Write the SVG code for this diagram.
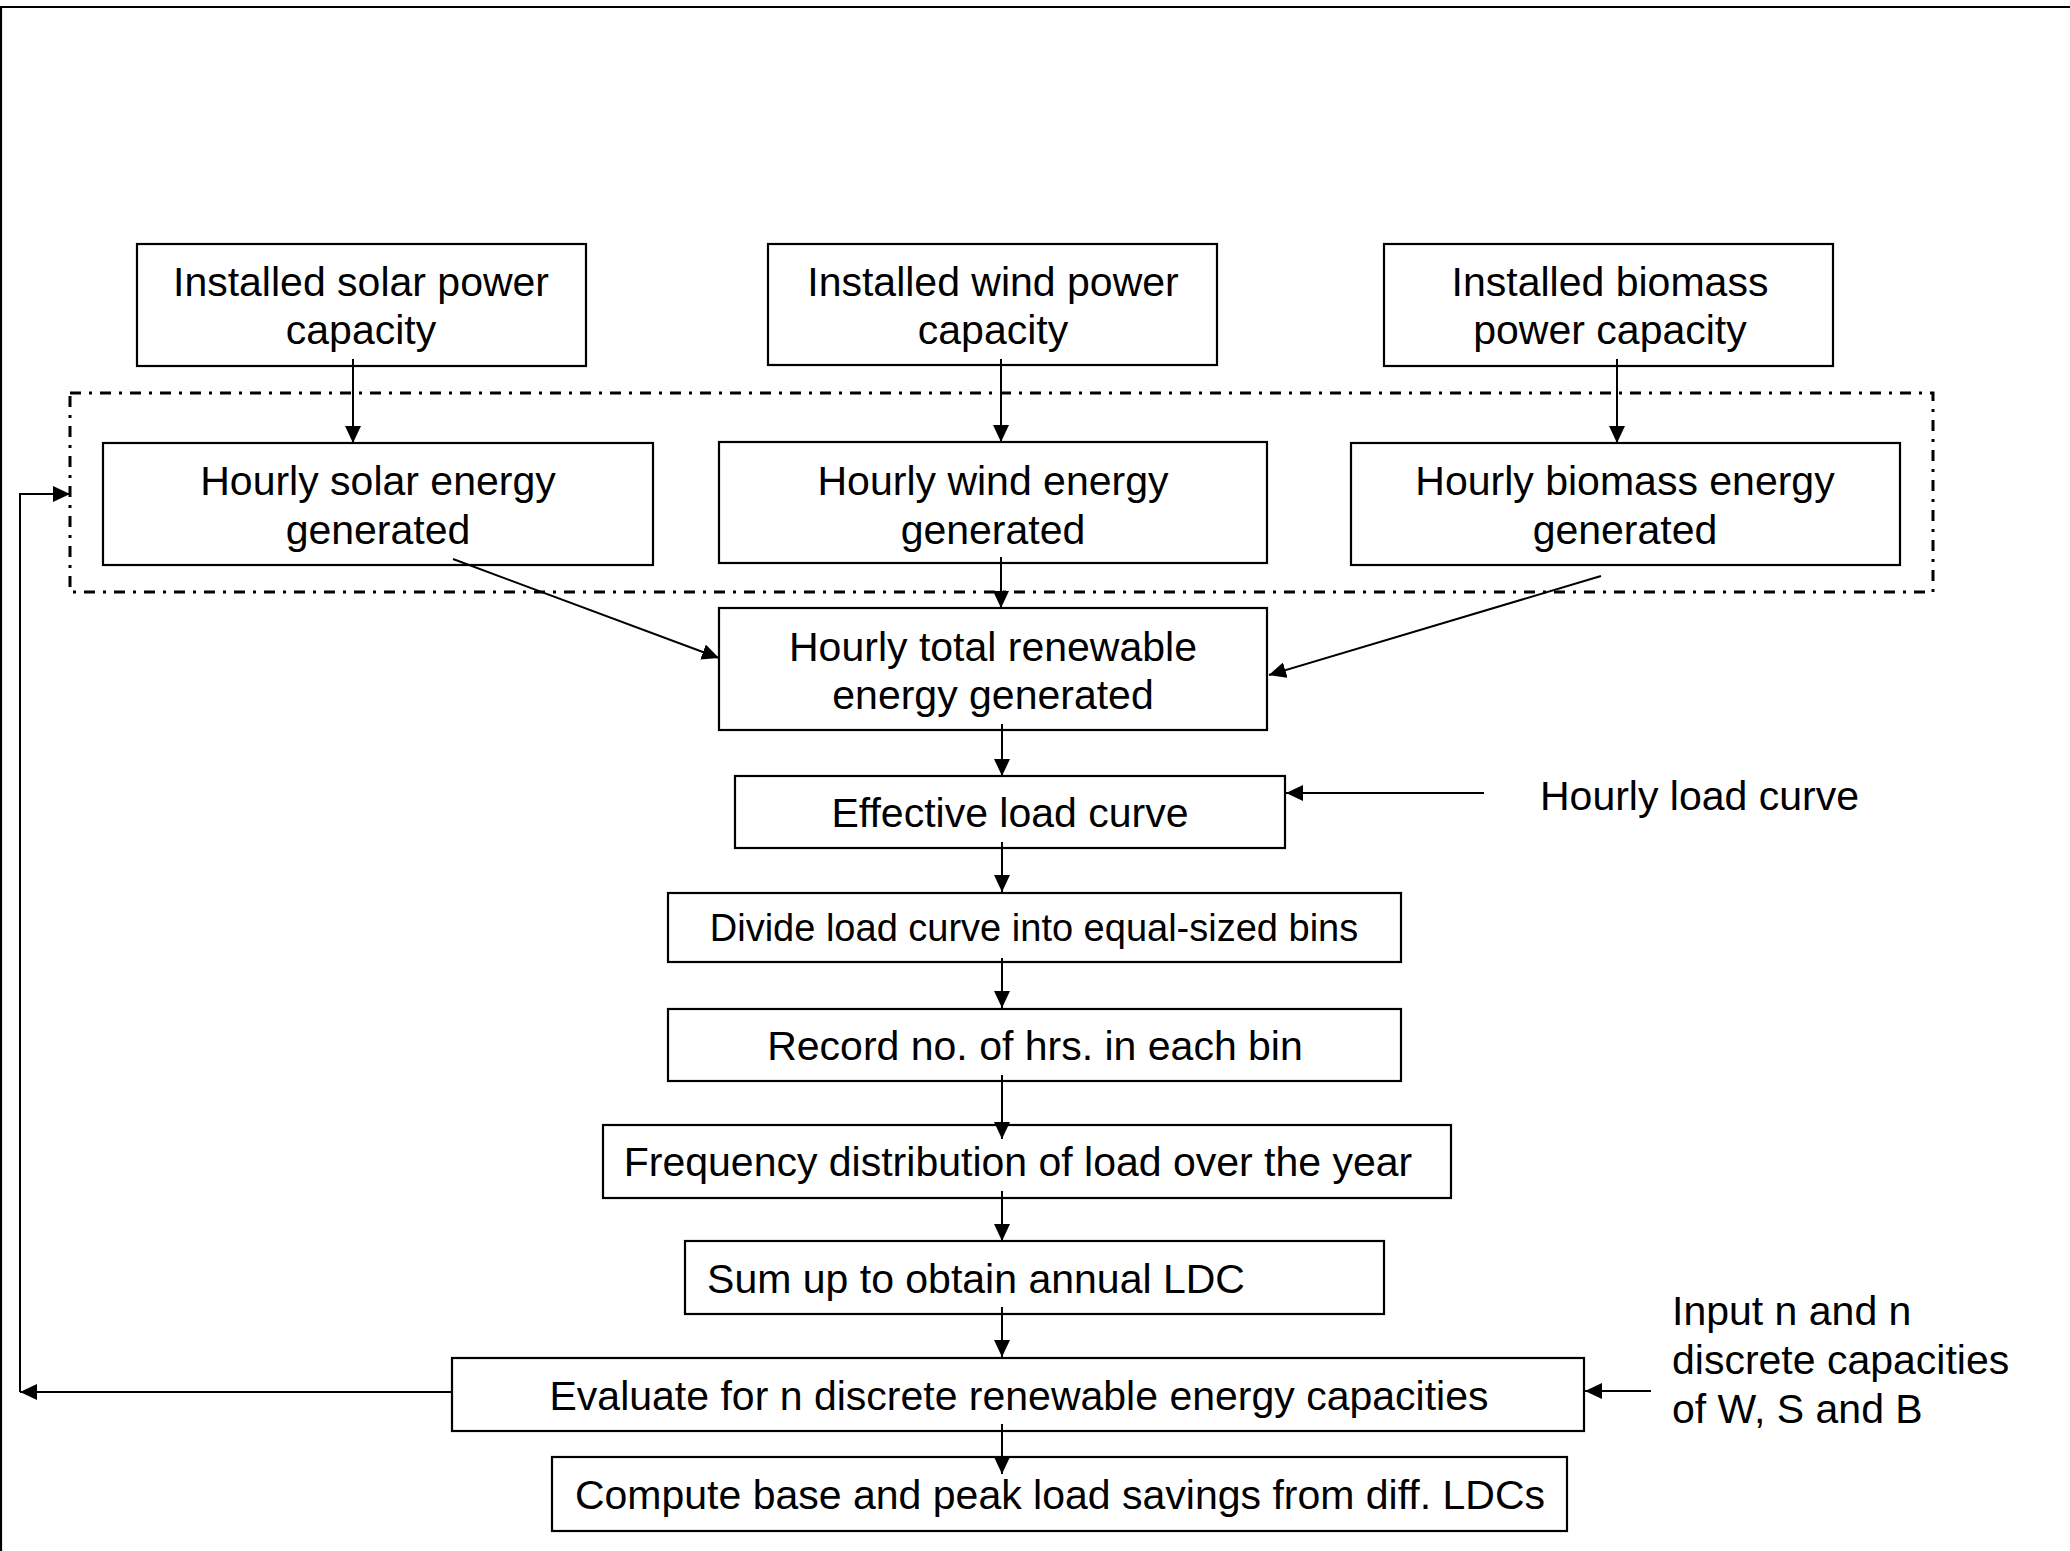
<svg xmlns="http://www.w3.org/2000/svg" width="2070" height="1551" viewBox="0 0 2070 1551">
<style>
  .box { fill: #fff; stroke: #000; stroke-width: 2.2; }
  .t { font-family: "Liberation Sans", Arial, sans-serif; font-size: 41px; fill: #000; }
  .c { text-anchor: middle; }
  .s { font-size: 38px; }
  .ln { fill: none; stroke: #000; stroke-width: 2; }
  .dash { fill: none; stroke: #000; stroke-width: 3; stroke-dasharray: 11 8 3 8; }
  .frame { fill: none; stroke: #000; stroke-width: 2.2; }
</style>
<defs>
  <marker id="ah" markerUnits="userSpaceOnUse" markerWidth="18" markerHeight="16" refX="17" refY="8" orient="auto">
    <path d="M0,0 L17,8 L0,16 z" fill="#000"/>
  </marker>
</defs>
<rect x="0" y="0" width="2070" height="1551" fill="#fff"/>
<g id="frame">
  <path class="frame" d="M0,7 H2070 M1,7 V1551"/>
</g>
<g id="group-hourly">
  <rect class="dash" x="70" y="393" width="1863" height="199"/>
</g>
<g id="n-solar-cap">
  <rect class="box" x="137" y="244" width="449" height="122"/>
  <text class="t c" x="361" y="296">Installed solar power</text>
  <text class="t c" x="361" y="344">capacity</text>
</g>
<g id="n-wind-cap">
  <rect class="box" x="768" y="244" width="449" height="121"/>
  <text class="t c" x="993" y="296">Installed wind power</text>
  <text class="t c" x="993" y="344">capacity</text>
</g>
<g id="n-bio-cap">
  <rect class="box" x="1384" y="244" width="449" height="122"/>
  <text class="t c" x="1610" y="296">Installed biomass</text>
  <text class="t c" x="1610" y="344">power capacity</text>
</g>
<g id="n-solar-hr">
  <rect class="box" x="103" y="443" width="550" height="122"/>
  <text class="t c" x="378" y="495">Hourly solar energy</text>
  <text class="t c" x="378" y="544">generated</text>
</g>
<g id="n-wind-hr">
  <rect class="box" x="719" y="442" width="548" height="121"/>
  <text class="t c" x="993" y="495">Hourly wind energy</text>
  <text class="t c" x="993" y="544">generated</text>
</g>
<g id="n-bio-hr">
  <rect class="box" x="1351" y="443" width="549" height="122"/>
  <text class="t c" x="1625" y="495">Hourly biomass energy</text>
  <text class="t c" x="1625" y="544">generated</text>
</g>
<g id="n-total">
  <rect class="box" x="719" y="608" width="548" height="122"/>
  <text class="t c" x="993" y="661">Hourly total renewable</text>
  <text class="t c" x="993" y="709">energy generated</text>
</g>
<g id="n-effective">
  <rect class="box" x="735" y="776" width="550" height="72"/>
  <text class="t c" x="1010" y="827">Effective load curve</text>
</g>
<g id="n-divide">
  <rect class="box" x="668" y="893" width="733" height="69"/>
  <text class="t s c" x="1034" y="941">Divide load curve into equal-sized bins</text>
</g>
<g id="n-record">
  <rect class="box" x="668" y="1009" width="733" height="72"/>
  <text class="t c" x="1035" y="1060">Record no. of hrs. in each bin</text>
</g>
<g id="n-freq">
  <rect class="box" x="603" y="1125" width="848" height="73"/>
  <text class="t c" x="1018" y="1176">Frequency distribution of load over the year</text>
</g>
<g id="n-sum">
  <rect class="box" x="685" y="1241" width="699" height="73"/>
  <text class="t c" x="976" y="1293">Sum up to obtain annual LDC</text>
</g>
<g id="n-eval">
  <rect class="box" x="452" y="1358" width="1132" height="73"/>
  <text class="t c" x="1019" y="1410">Evaluate for n discrete renewable energy capacities</text>
</g>
<g id="n-compute">
  <rect class="box" x="552" y="1457" width="1015" height="74"/>
  <text class="t c" x="1060" y="1509">Compute base and peak load savings from diff. LDCs</text>
</g>
<g id="n-load">
  <text class="t" x="1540" y="810">Hourly load curve</text>
</g>
<g id="n-input">
  <text class="t" x="1672" y="1325">Input n and n</text>
  <text class="t" x="1672" y="1374">discrete capacities</text>
  <text class="t" x="1672" y="1423">of W, S and B</text>
</g>
<g id="connectors">
  <line class="ln" x1="353" y1="359" x2="353" y2="443" marker-end="url(#ah)"/>
  <line class="ln" x1="1001" y1="359" x2="1001" y2="442" marker-end="url(#ah)"/>
  <line class="ln" x1="1617" y1="359" x2="1617" y2="443" marker-end="url(#ah)"/>
  <line class="ln" x1="1001" y1="557" x2="1001" y2="608" marker-end="url(#ah)"/>
  <line class="ln" x1="453" y1="559" x2="719" y2="658" marker-end="url(#ah)"/>
  <line class="ln" x1="1601" y1="576" x2="1269" y2="675" marker-end="url(#ah)"/>
  <line class="ln" x1="1002" y1="724" x2="1002" y2="776" marker-end="url(#ah)"/>
  <line class="ln" x1="1484" y1="793" x2="1286" y2="793" marker-end="url(#ah)"/>
  <line class="ln" x1="1002" y1="842" x2="1002" y2="892" marker-end="url(#ah)"/>
  <line class="ln" x1="1002" y1="958" x2="1002" y2="1008" marker-end="url(#ah)"/>
  <line class="ln" x1="1002" y1="1075" x2="1002" y2="1139" marker-end="url(#ah)"/>
  <line class="ln" x1="1002" y1="1191" x2="1002" y2="1241" marker-end="url(#ah)"/>
  <line class="ln" x1="1002" y1="1307" x2="1002" y2="1357" marker-end="url(#ah)"/>
  <line class="ln" x1="1002" y1="1424" x2="1002" y2="1474" marker-end="url(#ah)"/>
  <line class="ln" x1="1651" y1="1391" x2="1585" y2="1391" marker-end="url(#ah)"/>
  <line class="ln" x1="452" y1="1392" x2="20" y2="1392" marker-end="url(#ah)"/>
  <path class="ln" d="M20,1392 V494 H70" marker-end="url(#ah)"/>
</g>
</svg>
